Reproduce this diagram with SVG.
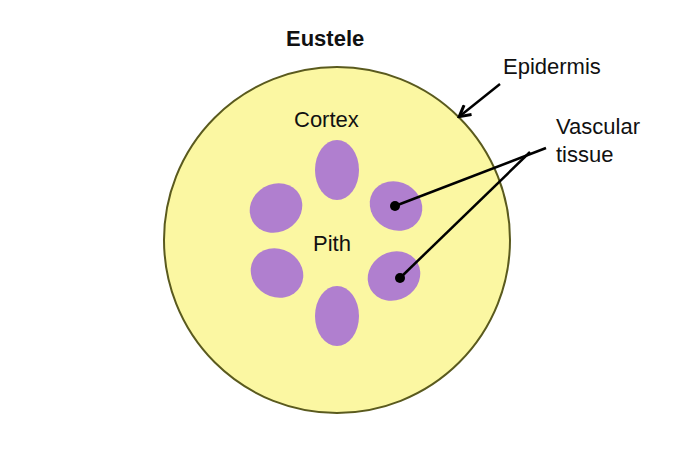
<svg xmlns="http://www.w3.org/2000/svg" width="684" height="450" viewBox="0 0 684 450">
<style>
text{font-family:"Liberation Sans",Arial,sans-serif;font-size:22px;fill:#111}
.b{fill:#b07fcf}
</style>
<defs><marker id="ah" markerWidth="14" markerHeight="14" refX="11" refY="7" orient="auto" markerUnits="userSpaceOnUse"><path d="M1,1 L12,7 L1,13" fill="none" stroke="#000" stroke-width="3"/></marker></defs>
<rect width="684" height="450" fill="#fff"/>
<g id="stem"><circle cx="337" cy="240" r="173" fill="#fbf7a2" stroke="#5a5a1e" stroke-width="2"/></g>
<g id="bundles">
<ellipse class="b" cx="337" cy="170" rx="22" ry="30"/>
<ellipse class="b" cx="276" cy="208" rx="27" ry="24" transform="rotate(-30 276 208)"/>
<ellipse class="b" cx="396" cy="206" rx="27" ry="24" transform="rotate(30 396 206)"/>
<ellipse class="b" cx="277" cy="273" rx="27" ry="24" transform="rotate(30 277 273)"/>
<ellipse class="b" cx="394" cy="276" rx="27" ry="24" transform="rotate(-30 394 276)"/>
<ellipse class="b" cx="337" cy="316" rx="22" ry="30"/>
</g>
<g id="labels">
<text x="286" y="46" font-weight="bold">Eustele</text>
<text x="294" y="127">Cortex</text>
<text x="313" y="251">Pith</text>
<text x="503" y="74">Epidermis</text>
<text x="556" y="134">Vascular</text>
<text x="556" y="162">tissue</text>
</g>
<g id="connectors" stroke="#000" stroke-width="2.5">
<line x1="500" y1="84" x2="460" y2="116" marker-end="url(#ah)"/>
<line x1="395" y1="206" x2="546" y2="148"/>
<line x1="400" y1="278" x2="530" y2="152"/>
<circle cx="395" cy="206" r="5" fill="#000" stroke="none"/>
<circle cx="400" cy="278" r="5" fill="#000" stroke="none"/>
</g>
</svg>
